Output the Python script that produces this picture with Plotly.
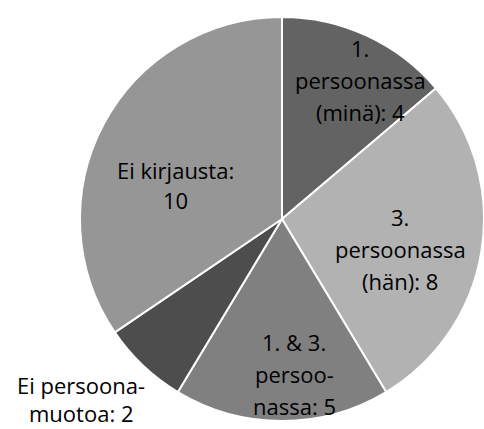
import plotly.graph_objects as go

categories = ["1. persoonassa (minä)", "3. persoonassa (hän)", "1. & 3. persoonassa",
              "Ei persoonamuotoa", "Ei kirjausta"]
values = [4, 8, 5, 2, 10]
label_lines = [["1.", "persoonassa", "(minä): {v}"],
               ["3.", "persoonassa", "(hän): {v}"],
               ["1. & 3.", "persoo-", "nassa: {v}"],
               ["Ei persoona-", "muotoa: {v}"],
               ["Ei kirjausta:", "{v}"]]
colors = ["#636363", "#b2b2b2", "#808080", "#4d4d4d", "#969696"]

W, H = 484, 429
cx, cy, r = 282, 219, 202
# (center x, first line center y, line gap) in pixels
label_pos = [(360, 48, 32), (400, 217, 32), (294, 342, 32), (81, 385, 28), (175, 170, 30)]

fig = go.Figure(go.Pie(
    labels=categories, values=values, sort=False, direction="clockwise", rotation=0,
    marker=dict(colors=colors, line=dict(color="white", width=2)),
    textinfo="none", hoverinfo="label+value", showlegend=False,
    domain=dict(x=[(cx - r) / W, (cx + r) / W], y=[(H - cy - r) / H, (H - cy + r) / H]),
))

for lines, v, (x, y0, gap) in zip(label_lines, values, label_pos):
    for i, l in enumerate(lines):
        y = y0 + i * gap
        fig.add_annotation(x=x / W, y=1 - y / H, xref="paper", yref="paper",
                           text=l.format(v=v), showarrow=False,
                           xanchor="center", yanchor="middle", align="center",
                           font=dict(family="Open Sans", size=22, color="#000000"))

fig.update_layout(width=W, height=H, margin=dict(l=0, r=0, t=0, b=0),
                  paper_bgcolor="white", plot_bgcolor="white")
fig.write_html("out.html", config={"displayModeBar": False},
               post_script="document.body.style.margin='0px';")
